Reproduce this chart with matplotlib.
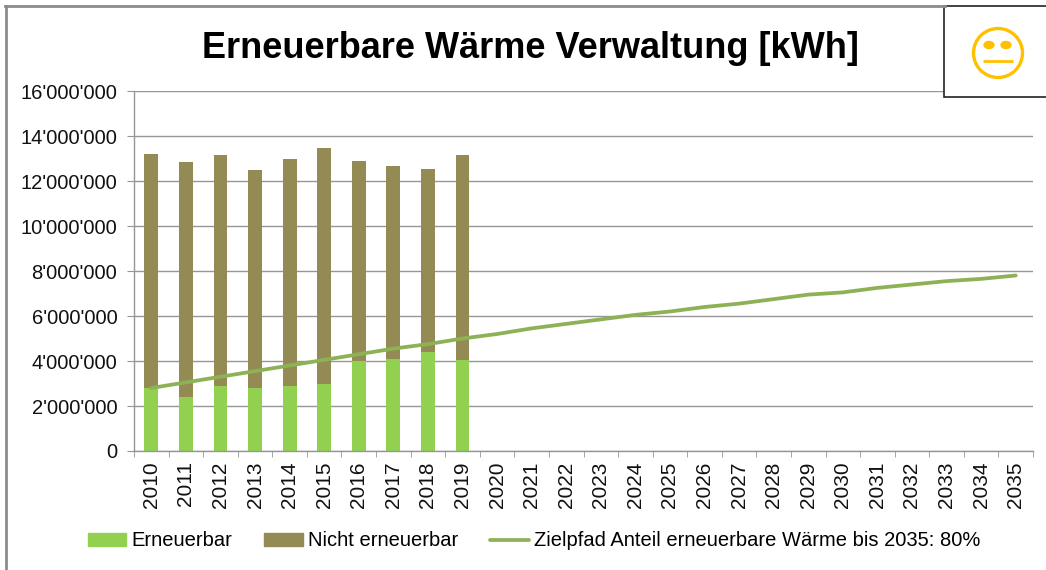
import numpy as np
from matplotlib import pyplot as plt
from matplotlib.patches import Circle, Ellipse, Rectangle
from matplotlib.lines import Line2D
from matplotlib.ticker import FuncFormatter

plt.rcParams['font.family'] = ['Liberation Sans', 'DejaVu Sans']

years = [str(y) for y in range(2010, 2036)]
erneuerbar = [2.80e6, 2.40e6, 2.90e6, 2.80e6, 2.90e6, 3.00e6, 4.00e6, 4.10e6, 4.40e6, 4.05e6]
nicht_erneuerbar = [10.40e6, 10.45e6, 10.25e6, 9.70e6, 10.10e6, 10.45e6, 8.90e6, 8.55e6, 8.15e6, 9.10e6]
zielpfad = [2.80e6, 3.05e6, 3.30e6, 3.55e6, 3.80e6, 4.05e6, 4.30e6, 4.55e6, 4.75e6, 5.00e6,
            5.20e6, 5.45e6, 5.65e6, 5.85e6, 6.05e6, 6.20e6, 6.40e6, 6.55e6, 6.75e6, 6.95e6,
            7.05e6, 7.25e6, 7.40e6, 7.55e6, 7.65e6, 7.80e6]

W, H = 1046, 570
green = '#92D050'
brown = '#948A54'
linecol = '#8DB255'
gridcol = '#969696'


def swiss(v, pos):
    return f"{int(v):,}".replace(",", "'")


fig = plt.figure(figsize=(W/100, H/100), dpi=100)
ax = fig.add_axes([134/W, 1-451/H, (1033-134)/W, (451-91)/H])

x = np.arange(len(years))
n = len(erneuerbar)
ax.bar(x[:n], erneuerbar, width=0.4, color=green, zorder=2)
ax.bar(x[:n], nicht_erneuerbar, width=0.4, bottom=erneuerbar, color=brown, zorder=2)
ax.plot(x, zielpfad, color=linecol, lw=2.7, zorder=3, solid_capstyle='round')

ax.set_xlim(-0.5, len(years)-0.5)
ax.set_ylim(0, 16e6)
ax.set_yticks(np.arange(0, 16e6+1, 2e6))
ax.yaxis.set_major_formatter(FuncFormatter(swiss))
ax.grid(axis='y', color=gridcol, lw=1)
ax.set_axisbelow(True)
for s in ['top', 'right']:
    ax.spines[s].set_visible(False)
for s in ['left', 'bottom']:
    ax.spines[s].set_color(gridcol)
    ax.spines[s].set_linewidth(1)

ax.set_xticks(np.arange(len(years)+1)-0.5, minor=True)
ax.set_xticks(x)
ax.set_xticklabels(years, rotation=90, fontsize=15, color='#111111')
ax.tick_params(axis='x', which='major', length=0, pad=7.5)
ax.tick_params(axis='x', which='minor', length=4.5, color=gridcol)
ax.tick_params(axis='y', length=5, color=gridcol, labelsize=14.5, labelcolor='#111111', pad=7)

fig.text(530/W, 1-48/H, "Erneuerbare Wärme Verwaltung [kWh]", ha='center', va='center',
         fontsize=26, fontweight='bold', color='black')

handles = [Rectangle((0, 0), 1, 1, color=green), Rectangle((0, 0), 1, 1, color=brown),
           Line2D([0], [0], color=linecol, lw=2.7, solid_capstyle='round')]
labels = ["Erneuerbar", "Nicht erneuerbar", "Zielpfad Anteil erneuerbare Wärme bis 2035: 80%"]
fig.legend(handles, labels, loc='center', bbox_to_anchor=(534/W, 1-541/H), ncol=3, frameon=False,
           fontsize=14.5, handlelength=1.9, handleheight=0.6, handletextpad=0.25, columnspacing=1.6)

# overlay in pixel coordinates for the frame and the smiley box
ov = fig.add_axes([0, 0, 1, 1], zorder=5)
ov.set_xlim(0, W)
ov.set_ylim(H, 0)
ov.axis('off')
ov.patch.set_alpha(0)
ov.plot([6, 6], [6, H], color='#8c8c8c', lw=2)
ov.plot([5, 945], [6, 6], color='#8c8c8c', lw=2)
ov.add_patch(Rectangle((944, 6), 110, 91, fc='white', ec='#222222', lw=1.2))
yellow = '#FFC000'
ov.add_patch(Circle((998, 53), 24.5, fc='none', ec=yellow, lw=2.4))
ov.add_patch(Ellipse((989, 45), 10, 7, color=yellow))
ov.add_patch(Ellipse((1006, 45), 10, 7, color=yellow))
ov.plot([983, 1013], [61, 61], color=yellow, lw=2, solid_capstyle='butt')

fig.savefig("out.png", dpi=100)
